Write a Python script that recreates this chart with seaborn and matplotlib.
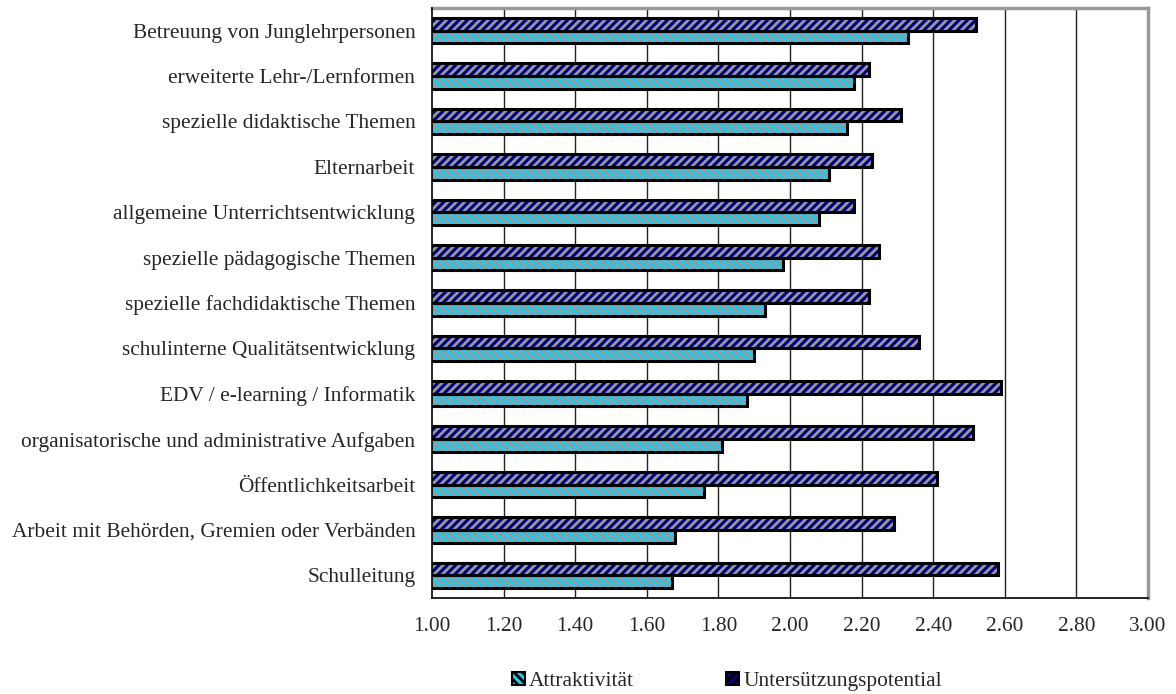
import matplotlib
matplotlib.use("Agg")
import matplotlib.pyplot as plt
from matplotlib.patches import Rectangle, Patch
import seaborn as sns
import pandas as pd
import numpy as np

# Kategorien von oben nach unten
kategorien = [
    "Betreuung von Junglehrpersonen",
    "erweiterte Lehr-/Lernformen",
    "spezielle didaktische Themen",
    "Elternarbeit",
    "allgemeine Unterrichtsentwicklung",
    "spezielle pädagogische Themen",
    "spezielle fachdidaktische Themen",
    "schulinterne Qualitätsentwicklung",
    "EDV / e-learning / Informatik",
    "organisatorische und administrative Aufgaben",
    "Öffentlichkeitsarbeit",
    "Arbeit mit Behörden, Gremien oder Verbänden",
    "Schulleitung",
]
attraktivitaet = [2.33, 2.18, 2.16, 2.11, 2.08, 1.98, 1.93, 1.90, 1.88, 1.81, 1.76, 1.68, 1.67]
unterstuetzung = [2.52, 2.22, 2.31, 2.23, 2.18, 2.25, 2.22, 2.36, 2.59, 2.51, 2.41, 2.29, 2.58]
serien = ["Untersützungspotential", "Attraktivität"]
x_ticks = [1.00, 1.20, 1.40, 1.60, 1.80, 2.00, 2.20, 2.40, 2.60, 2.80, 3.00]

farben = {"Untersützungspotential": "#000080", "Attraktivität": "#1ecbf0"}
schraffur = {"Untersützungspotential": "////", "Attraktivität": "\\\\\\\\"}

df = pd.DataFrame({
    "Kategorie": kategorien * 2,
    "Wert": unterstuetzung + attraktivitaet,
    "Serie": [serien[0]] * len(kategorien) + [serien[1]] * len(kategorien),
})

FS = 15.4

sns.set_style("white")
plt.rcParams["font.family"] = ["Liberation Serif", "DejaVu Serif"]
plt.rcParams["hatch.linewidth"] = 2.0

fig = plt.figure(figsize=(11.76, 6.94), dpi=100)
ax = fig.add_axes([0.3673, 0.1383, 0.6089, 0.8502])

sns.barplot(data=df, y="Kategorie", x="Wert", hue="Serie", hue_order=serien,
            palette=farben, orient="h", width=0.56, errorbar=None,
            legend=False, ax=ax, saturation=1)

# Schraffur in grau, Umriss schwarz
for serie, cont in zip(serien, ax.containers):
    for bar in cont:
        bar.set_hatch(schraffur[serie])
        bar.set_edgecolor("#999999")
        bar.set_linewidth(0)
        ax.add_patch(Rectangle(bar.get_xy(), bar.get_width(), bar.get_height(),
                               fill=False, edgecolor="black", linewidth=2.2, zorder=3))

ax.set_xlim(1.0, 3.0)
ax.set_ylim(len(kategorien) - 0.5, -0.5)
ax.set_xticks(x_ticks)
ax.set_xticklabels([f"{v:.2f}" for v in x_ticks], fontsize=FS)
ax.set_xlabel("")
ax.set_ylabel("")
ax.tick_params(axis="y", which="major", length=0, pad=12, labelsize=FS)
ax.set_yticks(np.arange(-0.5, len(kategorien), 1.0), minor=True)
ax.tick_params(axis="y", which="minor", length=6, width=1, color="black", direction="out")
ax.tick_params(axis="x", which="major", length=6, width=1, color="black", direction="out", pad=8)

for v in x_ticks[1:-1]:
    ax.axvline(v, color="#222222", linewidth=1.0, zorder=0)

for s in ["top", "right"]:
    ax.spines[s].set_color("#999999")
    ax.spines[s].set_linewidth(2.5)
for s in ["left", "bottom"]:
    ax.spines[s].set_color("black")
    ax.spines[s].set_linewidth(1.2)
    ax.spines[s].set_zorder(4)

handles = [
    Patch(facecolor=farben["Attraktivität"], edgecolor="#999999", hatch=schraffur["Attraktivität"], linewidth=0),
    Patch(facecolor=farben["Untersützungspotential"], edgecolor="#999999", hatch=schraffur["Untersützungspotential"], linewidth=0),
]
leg = fig.legend(handles, ["Attraktivität", "Untersützungspotential"], loc="center",
                 bbox_to_anchor=(0.618, 0.018), ncol=2, frameon=False, fontsize=FS,
                 handlelength=0.6, handleheight=0.6, handletextpad=0.2, columnspacing=4.3)
for h in leg.legend_handles:
    h.set_edgecolor("black")
    h.set_linewidth(1.5)

fig.savefig("out.png", dpi=100)
